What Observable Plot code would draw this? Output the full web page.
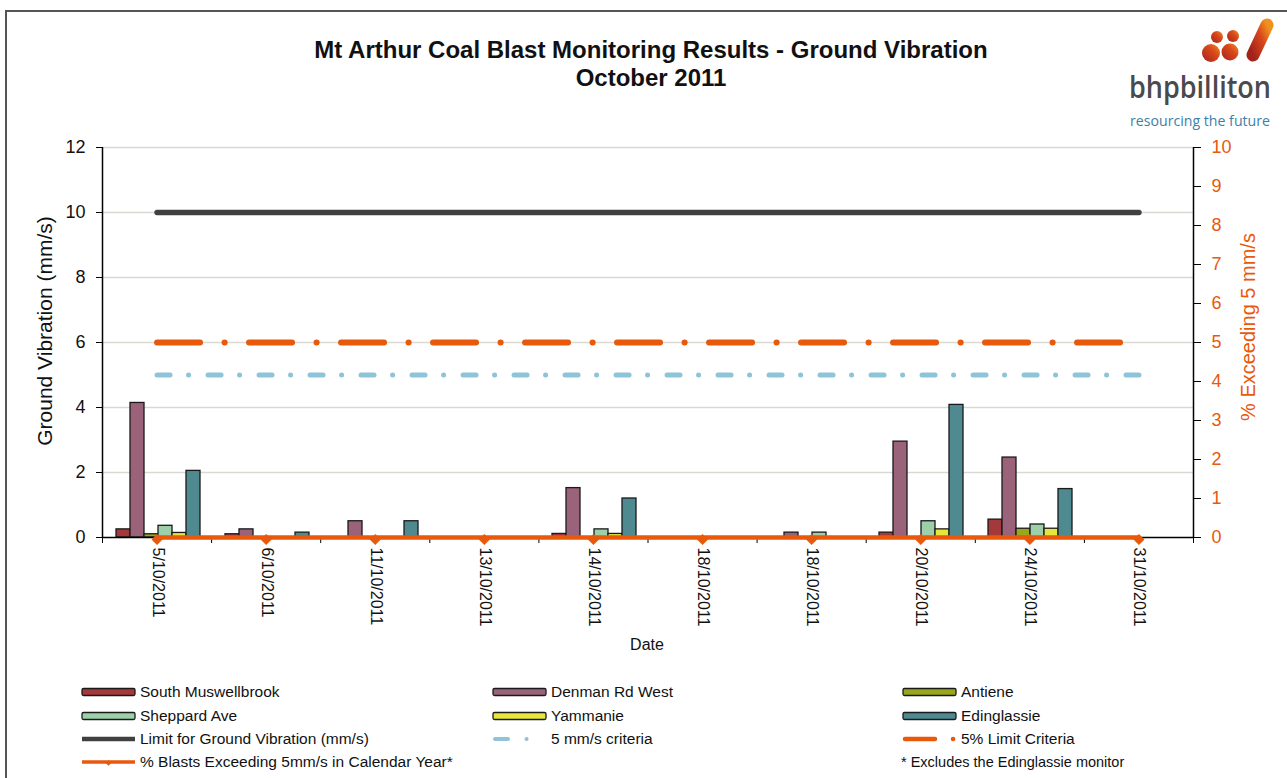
<!DOCTYPE html>
<html><head><meta charset="utf-8">
<script src="https://cdn.jsdelivr.net/npm/d3@7"></script>
<script src="https://cdn.jsdelivr.net/npm/@observablehq/plot@0.6"></script>
<style>
body{margin:0;background:#fff;font-family:"Liberation Sans",Arial,sans-serif;}
#wrap{position:relative;width:1287px;height:778px;overflow:hidden;background:#fff}
#frame{position:absolute;left:5px;top:10px;width:1300px;height:800px;border:2px solid #555;box-sizing:border-box}
.layer{position:absolute;left:0;top:0}
.abs{position:absolute;white-space:nowrap}
#title{left:151px;width:1000px;top:36px;text-align:center;font-weight:bold;font-size:24px;line-height:28px;color:#111}
.ctr{transform:translate(-50%,-50%)}
</style></head><body>
<div id="wrap">
  <div id="frame"></div>
  <div id="plotA" class="layer"></div>
  <div id="plotB" class="layer"></div>
  <div id="title" class="abs">Mt Arthur Coal Blast Monitoring Results - Ground Vibration<br>October 2011</div>
  <div class="abs" style="left:45px;top:331px;transform:translate(-50%,-50%) rotate(-90deg);font-size:21px;color:#111">Ground Vibration (mm/s)</div>
  <div class="abs" style="left:1248px;top:327px;transform:translate(-50%,-50%) rotate(-90deg);font-size:20px;color:#e8590c">% Exceeding 5 mm/s</div>
  <div class="abs ctr" style="left:647px;top:645px;font-size:16px;color:#111">Date</div>
  <svg id="logo" class="layer" width="1287" height="140" style="pointer-events:none">
    <defs>
      <linearGradient id="lg" x1="0" y1="1" x2="1" y2="0">
        <stop offset="0" stop-color="#a3231a"/><stop offset="0.6" stop-color="#d9481c"/><stop offset="1" stop-color="#f0901e"/>
      </linearGradient>
    </defs>
    <circle cx="1211" cy="53" r="9" fill="url(#lg)"/>
    <circle cx="1217" cy="37" r="6" fill="url(#lg)"/>
    <circle cx="1233" cy="36" r="6" fill="url(#lg)"/>
    <circle cx="1230" cy="52" r="8.5" fill="url(#lg)"/>
    <line x1="1267" y1="25" x2="1253" y2="55" stroke="url(#lg)" stroke-width="13" stroke-linecap="round"/>
    <text x="1129" y="98" font-family="Open Sans, Lato, sans-serif" font-weight="600" font-size="30" fill="#4a4a4c" textLength="142" lengthAdjust="spacingAndGlyphs">bhpbilliton</text>
    <text x="1130" y="126" font-family="Open Sans, Lato, sans-serif" font-size="15" fill="#3d7fa8" textLength="140" lengthAdjust="spacingAndGlyphs">resourcing the future</text>
  </svg>
  <svg id="legend" class="layer" width="1287" height="778" style="pointer-events:none"></svg>
</div>
<script>
// ---------- data ----------
const dates = ["5/10/2011","6/10/2011","11/10/2011","13/10/2011","14/10/2011","18/10/2011","18/10/2011","20/10/2011","24/10/2011","31/10/2011"];
const seriesNames = ["South Muswellbrook","Denman Rd West","Antiene","Sheppard Ave","Yammanie","Edinglassie"];
const seriesColors = ["#a3393a","#9b6379","#9aa61b","#9dcfa9","#e6e63c","#4f8a90"];
const southMuswellbrook = [0.25,0.10,0,0,0.11,0,0,0.15,0.55,0];
const denmanRdWest     = [4.14,0.25,0.50,0,1.52,0,0.15,2.95,2.46,0];
const antiene          = [0.10,0,0,0,0,0,0,0,0.27,0];
const sheppardAve      = [0.36,0,0,0,0.25,0,0.15,0.50,0.40,0];
const yammanie         = [0.14,0,0,0,0.11,0,0,0.25,0.27,0];
const edinglassie      = [2.05,0.15,0.50,0,1.20,0,0,4.08,1.49,0];
const limitGroundVibration = 10;     // mm/s
const criteria5mm = 5;               // mm/s
const limitCriteriaPct = 5;          // % (right axis)
const pctBlastsExceeding = [0,0,0,0,0,0,0,0,0,0]; // % (right axis)
const yTicks = [0,2,4,6,8,10,12];
const pctTicks = [0,1,2,3,4,5,6,7,8,9,10];
const lineLabels = ["Limit for Ground Vibration (mm/s)","5 mm/s criteria","5% Limit Criteria","% Blasts Exceeding 5mm/s in Calendar Year*"];
const footNote = "* Excludes the Edinglassie monitor";

const seriesValues = [southMuswellbrook, denmanRdWest, antiene, sheppardAve, yammanie, edinglassie];
const ORANGE = "#e8590c", BLUE = "#8ec4d7", DARK = "#404040";
const yMax = yTicks[yTicks.length-1], pMax = pctTicks[pctTicks.length-1];
const pctScale = yMax / pMax;

const rows = [];
seriesNames.forEach((s,k) => seriesValues[k].forEach((v,i) => rows.push({idx:i, series:s, value:v})));
const idx = d3.range(dates.length);

const W=1287, H=778, mL=102, mR=94, mT=147, mB=241;
const font = "Liberation Sans, Arial, sans-serif";

// ---------- bottom layer: grid, bars, left axis, date labels ----------
const plotA = Plot.plot({
  width:W, height:H, marginLeft:mL, marginRight:mR, marginTop:mT, marginBottom:mB,
  style:{fontFamily:font, background:"transparent", overflow:"visible", color:"#111"},
  fx:{domain:idx, padding:0},
  x:{domain:seriesNames, paddingInner:0, paddingOuter:0.75, axis:null},
  y:{domain:[0,yMax]},
  color:{domain:seriesNames, range:seriesColors},
  marks:[
    Plot.ruleY(yTicks.filter(d=>d>0), {stroke:"#d9d9d1", strokeWidth:1.5}),
    Plot.barY(rows, {fx:"idx", x:"series", y:"value", fill:"series", stroke:"#1a1a1a", strokeWidth:1.3}),
    Plot.axisY({ticks:yTicks, tickSize:7, tickPadding:11, fontSize:18, label:null, stroke:"black", fill:"#111"}),
    Plot.axisFx({anchor:"bottom", tickSize:0, tickPadding:10, tickRotate:90, fontSize:16, tickFormat:i=>dates[i], label:null, fill:"#111"})
  ]
});
document.getElementById("plotA").append(plotA);

// ---------- top layer: axis lines, right axis, criteria lines ----------
const plotB = Plot.plot({
  width:W, height:H, marginLeft:mL, marginRight:mR, marginTop:mT, marginBottom:mB,
  style:{fontFamily:font, background:"transparent", overflow:"visible"},
  x:{domain:[-0.5, dates.length-0.5], axis:null},
  y:{domain:[0,yMax], axis:null},
  marks:[
    Plot.ruleY([0], {stroke:"black", strokeWidth:1.5}),
    Plot.ruleX([-0.5, dates.length-0.5], {stroke:"black", strokeWidth:1.5}),
    Plot.axisX({ticks:d3.range(dates.length+1).map(i=>i-0.5), tickSize:6, tickFormat:()=>"", label:null, stroke:"black"}),
    Plot.axisY({anchor:"right", ticks:pctTicks.map(p=>p*pctScale), tickFormat:d=>Math.round(d/pctScale), tickSize:7, tickPadding:11, fontSize:18, fill:ORANGE, stroke:"black", label:null}),
    Plot.line(idx, {x:i=>i, y:()=>limitGroundVibration, stroke:DARK, strokeWidth:5.5}),
    Plot.line(idx, {x:i=>i, y:()=>criteria5mm, stroke:BLUE, strokeWidth:5, strokeDasharray:"13,18.5,0.1,19.4", strokeLinecap:"round"}),
    Plot.line(idx, {x:i=>i, y:()=>limitCriteriaPct*pctScale, stroke:ORANGE, strokeWidth:6, strokeDasharray:"43,24.5,0.1,24.4", strokeLinecap:"round"}),
    Plot.line(pctBlastsExceeding, {x:(d,i)=>i, y:d=>d*pctScale, stroke:ORANGE, strokeWidth:4.5}),
    Plot.dot(pctBlastsExceeding, {x:(d,i)=>i, y:d=>d*pctScale, symbol:"diamond2", r:5, fill:ORANGE, stroke:"none", dy:2})
  ]
});
document.getElementById("plotB").append(plotB);

// ---------- legend ----------
const lg = d3.select("#legend");
const colX = [82, 493, 903], rowY = [692, 716, 739, 762], sw = 53;
function label(x, y, t, size=15.5){
  lg.append("text").attr("x", x).attr("y", y).attr("dy","0.35em").attr("font-family",font).attr("font-size",size).attr("fill","#111").text(t);
}
seriesNames.forEach((s,k) => {
  const c = k % 3, r = Math.floor(k/3);
  lg.append("rect").attr("x", colX[c]).attr("y", rowY[r]-3.5).attr("width", sw).attr("height", 7).attr("rx",1.5)
    .attr("fill", seriesColors[k]).attr("stroke","#1a1a1a").attr("stroke-width",1.3);
  label(colX[c]+sw+5, rowY[r], s);
});
// limit line
lg.append("line").attr("x1",colX[0]).attr("x2",colX[0]+sw).attr("y1",rowY[2]).attr("y2",rowY[2]).attr("stroke",DARK).attr("stroke-width",4.5);
label(colX[0]+sw+5, rowY[2], lineLabels[0]);
// 5 mm/s criteria
lg.append("line").attr("x1",colX[1]+2).attr("x2",colX[1]+sw).attr("y1",rowY[2]).attr("y2",rowY[2]).attr("stroke",BLUE).attr("stroke-width",4)
  .attr("stroke-linecap","round").attr("stroke-dasharray","13,18.5,0.1,19.5");
label(colX[1]+sw+5, rowY[2], lineLabels[1]);
// 5% limit criteria
lg.append("line").attr("x1",colX[2]+2).attr("x2",colX[2]+sw).attr("y1",rowY[2]).attr("y2",rowY[2]).attr("stroke",ORANGE).attr("stroke-width",4.5)
  .attr("stroke-linecap","round").attr("stroke-dasharray","30,18,0.1,40");
label(colX[2]+sw+5, rowY[2], lineLabels[2]);
// % blasts
lg.append("line").attr("x1",colX[0]).attr("x2",colX[0]+sw).attr("y1",rowY[3]).attr("y2",rowY[3]).attr("stroke",ORANGE).attr("stroke-width",3.5);
lg.append("path").attr("d", d3.symbol(d3.symbolDiamond2, 20)()).attr("transform",`translate(${colX[0]+sw/2},${rowY[3]+1})`).attr("fill",ORANGE);
label(colX[0]+sw+5, rowY[3], lineLabels[3]);
label(colX[2]-2, rowY[3], footNote, 14.5);
</script>
</body></html>
